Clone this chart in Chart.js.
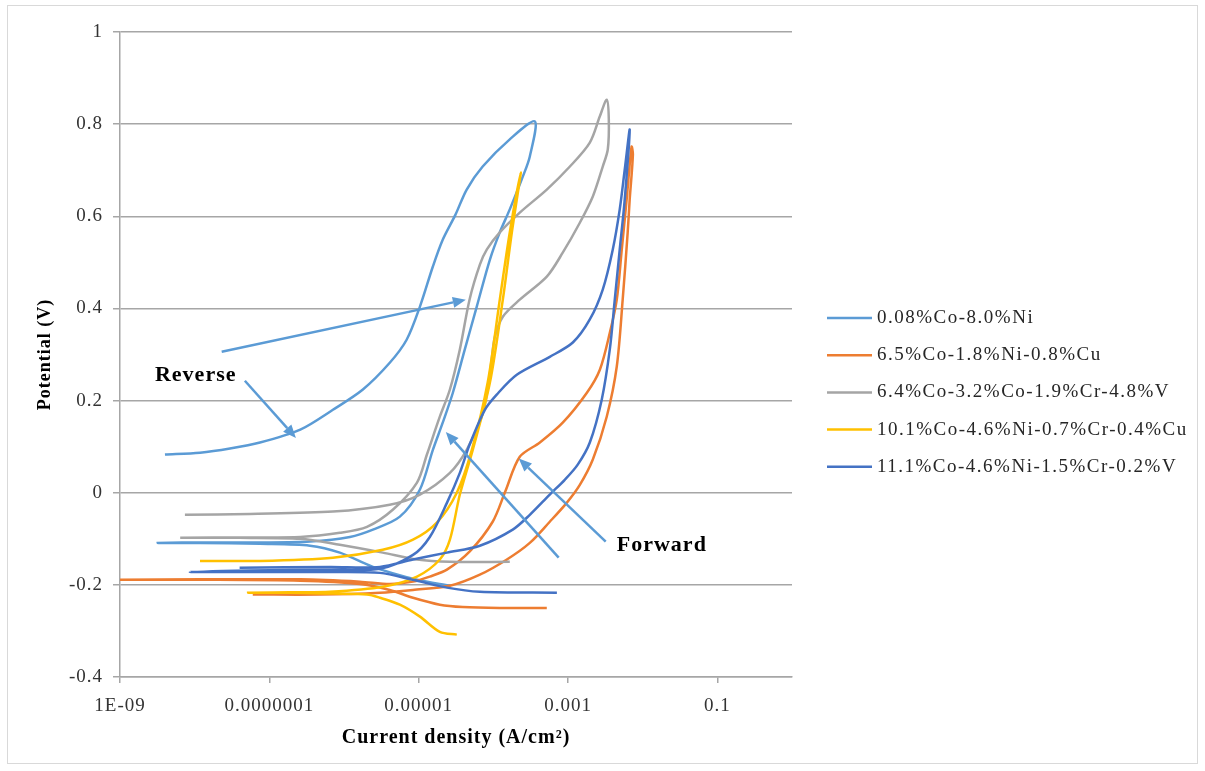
<!DOCTYPE html>
<html>
<head>
<meta charset="utf-8">
<title>Cyclic polarization curves</title>
<script src="https://cdn.jsdelivr.net/npm/chart.js@4.4.1/dist/chart.umd.min.js"></script>
<style>
  body { margin: 0; background: #fff; }
  #wrap { width: 1205px; height: 771px; }
</style>
</head>
<body>
<div id="wrap"><canvas id="chart" width="1205" height="771"></canvas></div>
<script>
const seriesLabels = [
  '0.08%Co-8.0%Ni',
  '6.5%Co-1.8%Ni-0.8%Cu',
  '6.4%Co-3.2%Co-1.9%Cr-4.8%V',
  '10.1%Co-4.6%Ni-0.7%Cr-0.4%Cu',
  '11.1%Co-4.6%Ni-1.5%Cr-0.2%V'
];
const seriesColors = ['#5B9BD5', '#ED7D31', '#A5A5A5', '#FFC000', '#4472C4'];

// each scan: cathodic tail -> Ecorr tip -> forward anodic -> vertex -> reverse
const current1 = [2.62e-5, 9.5e-6, 2.44e-6, 8.8e-7, 3.5e-7, 7.5e-8, 1.18e-8, 3.2e-9, 1.18e-8, 7.5e-8, 3.5e-7, 1.2e-6,
  2.44e-6, 5.6e-6, 1.04e-5, 1.55e-5, 2.1e-5, 2.87e-5, 4.15e-5, 6.0e-5, 9.0e-5, 1.22e-4, 1.66e-4, 2.48e-4, 3.08e-4, 3.6e-4,
  1.66e-4, 7.2e-5, 4.4e-5, 3.1e-5, 2.1e-5, 1.55e-5, 1.04e-5, 6.9e-6, 4.1e-6, 1.79e-6, 7.1e-7, 2.6e-7, 7.5e-8, 2.97e-8,
  1.18e-8, 4.0e-9];
const potential1 = [-0.202, -0.189, -0.161, -0.130, -0.115, -0.111, -0.109, -0.109, -0.108, -0.108, -0.106, -0.096,
  -0.080, -0.052, 0.007, 0.093, 0.152, 0.217, 0.311, 0.404, 0.506, 0.565, 0.615, 0.686, 0.730, 0.806,
  0.767, 0.708, 0.658, 0.603, 0.549, 0.491, 0.404, 0.332, 0.282, 0.224, 0.180, 0.137, 0.109, 0.096,
  0.087, 0.083];

const current2 = [5.2e-4, 1.22e-4, 3.9e-5, 1.92e-5, 8.4e-6, 4.1e-6, 1.63e-6, 2.6e-7, 1.18e-8, 7.3e-10, 1.18e-8, 2.6e-7,
  1.63e-6, 4.1e-6, 8.4e-6, 1.41e-5, 2.39e-5, 4.8e-5, 9.8e-5, 1.44e-4, 2.26e-4, 4.2e-4, 8.5e-4, 1.79e-3, 2.67e-3,
  3.63e-3, 4.5e-3, 5.25e-3, 6.1e-3, 7.1e-3,
  7.4e-3, 6.7e-3, 6.3e-3, 5.4e-3, 4.5e-3, 3.3e-3, 2.15e-3, 1.44e-3, 9.6e-4, 5.7e-4, 3.08e-4, 1.52e-4, 6.6e-5, 2.62e-5,
  8.4e-6, 3.03e-6, 4.75e-7, 6.0e-8];
const potential2 = [-0.250, -0.250, -0.248, -0.243, -0.228, -0.211, -0.198, -0.191, -0.189, -0.189, -0.188, -0.188,
  -0.193, -0.198, -0.193, -0.182, -0.167, -0.128, -0.063, 0.002, 0.078, 0.109, 0.152, 0.217, 0.267,
  0.347, 0.419, 0.528, 0.636, 0.751,
  0.734, 0.636, 0.565, 0.419, 0.274, 0.165, 0.072, 0.017, -0.022, -0.063, -0.109, -0.145, -0.178, -0.202,
  -0.211, -0.217, -0.221, -0.221];

const current3 = [1.66e-4, 2.62e-5, 9.5e-6, 3.3e-6, 8.8e-7, 2.6e-7, 4.0e-8, 6.4e-9, 4.0e-8, 2.6e-7, 8.8e-7, 2.03e-6,
  4.5e-6, 9.5e-6, 1.29e-5, 1.92e-5, 2.62e-5, 3.56e-5, 4.8e-5, 6.6e-5, 8.2e-5, 1.22e-4, 2.26e-4, 5.2e-4, 1.06e-3,
  1.96e-3, 2.67e-3, 3.3e-3,
  3.52e-3, 3.41e-3, 2.92e-3, 2.15e-3, 1.44e-3, 8.5e-4, 5.2e-4, 2.26e-4, 1.34e-4, 1.05e-4, 9.5e-5, 8.4e-5, 7.0e-5,
  4.4e-5, 2.62e-5, 1.04e-5, 4.1e-6, 7.1e-7, 5.5e-8, 7.4e-9];
const potential3 = [-0.150, -0.150, -0.145, -0.130, -0.113, -0.100, -0.098, -0.098, -0.097, -0.096, -0.087, -0.074,
  -0.037, 0.022, 0.083, 0.165, 0.224, 0.311, 0.419, 0.495, 0.528, 0.565, 0.608, 0.658, 0.708,
  0.760, 0.817, 0.853,
  0.810, 0.745, 0.708, 0.643, 0.586, 0.521, 0.469, 0.419, 0.382, 0.339, 0.289, 0.224, 0.165,
  0.093, 0.043, -0.004, -0.026, -0.041, -0.046, -0.048];

const current4 = [3.24e-5, 1.92e-5, 1.04e-5, 5.6e-6, 3.03e-6, 2.03e-6, 7.1e-7, 1.89e-7, 5.2e-8, 1.89e-7, 6.5e-7, 3.3e-6,
  9.5e-6, 1.92e-5, 2.62e-5, 3.56e-5, 5.3e-5, 9.0e-5, 1.34e-4, 1.77e-4, 2.33e-4,
  1.66e-4, 1.22e-4, 8.4e-5, 5.15e-5, 3.24e-5, 1.75e-5, 8.4e-6, 3.3e-6, 7.1e-7, 7.5e-8, 1.18e-8];
const potential4 = [-0.308, -0.302, -0.269, -0.243, -0.228, -0.221, -0.219, -0.217, -0.217, -0.216, -0.215, -0.204,
  -0.182, -0.145, -0.102, -0.004, 0.093, 0.239, 0.419, 0.565, 0.695,
  0.565, 0.419, 0.239, 0.093, 0.000, -0.065, -0.102, -0.124, -0.141, -0.148, -0.148];

const current5 = [7.1e-4, 6.6e-5, 2.39e-5, 8.4e-6, 3.03e-6, 6.5e-7, 5.5e-8, 8.6e-9, 5.5e-8, 6.5e-7, 3.03e-6, 8.4e-6,
  1.41e-5, 2.39e-5, 3.56e-5, 4.8e-5, 7.7e-5, 1.11e-4, 2.06e-4, 5.7e-4, 1.16e-3, 1.96e-3, 2.92e-3, 3.98e-3, 4.93e-3,
  5.75e-3, 6.7e-3,
  5.75e-3, 4.93e-3, 4.23e-3, 3.63e-3, 2.83e-3, 1.96e-3, 1.35e-3, 9.05e-4, 5.7e-4, 3.08e-4, 1.82e-4, 6.6e-5, 2.39e-5,
  8.4e-6, 3.03e-6, 6.5e-7, 4.0e-8];
const potential5 = [-0.217, -0.215, -0.206, -0.189, -0.174, -0.172, -0.172, -0.172, -0.169, -0.167, -0.165, -0.135,
  -0.096, -0.022, 0.043, 0.104, 0.180, 0.213, 0.256, 0.295, 0.326, 0.376, 0.441, 0.528, 0.615,
  0.701, 0.788,
  0.636, 0.528, 0.419, 0.311, 0.202, 0.109, 0.061, 0.028, -0.004, -0.048, -0.080, -0.115, -0.130,
  -0.145, -0.161, -0.161, -0.163];

const currents = [current1, current2, current3, current4, current5];
const potentials = [potential1, potential2, potential3, potential4, potential5];

const xTickValues = [1e-9, 1e-7, 1e-5, 1e-3, 1e-1];
const xTickLabels = ['1E-09', '0.0000001', '0.00001', '0.001', '0.1'];
const yTickValues = [-0.4, -0.2, 0, 0.2, 0.4, 0.6, 0.8, 1];
const yTickLabels = ['-0.4', '-0.2', '0', '0.2', '0.4', '0.6', '0.8', '1'];

// scan-direction arrows [fromCurrent, fromPotential, toCurrent, toPotential]
const arrows = [
  [2.3e-8, 0.306, 4.28e-5, 0.419],
  [4.7e-8, 0.243, 2.27e-7, 0.119],
  [7.5e-4, -0.141, 2.31e-5, 0.132],
  [3.2e-3, -0.106, 2.19e-4, 0.074]
];
const notes = [
  ['Reverse', 2.94e-9, 0.254],
  ['Forward', 4.5e-3, -0.115]
];

const serif = "'Liberation Serif', 'Times New Roman', serif";
const gridGray = '#A6A6A6';

const datasets = seriesLabels.map((label, i) => ({
  label: label,
  data: currents[i].map((c, j) => ({ x: c, y: potentials[i][j] })),
  showLine: true,
  borderColor: seriesColors[i],
  backgroundColor: seriesColors[i],
  borderWidth: 2.5,
  pointRadius: 0,
  tension: 0.3,
  fill: false,
  order: seriesLabels.length - i
}));

const framePlugin = {
  id: 'frame',
  beforeDraw(chart) {
    const ctx = chart.ctx;
    ctx.save();
    ctx.fillStyle = '#fff';
    ctx.fillRect(0, 0, chart.width, chart.height);
    ctx.strokeStyle = '#D9D9D9';
    ctx.lineWidth = 1;
    ctx.strokeRect(7.5, 5.5, 1190, 758);
    ctx.restore();
    // axis text is drawn slightly spaced out
    ctx.letterSpacing = '1px';
  }
};

const notesPlugin = {
  id: 'notes',
  afterDatasetsDraw(chart) {
    const ctx = chart.ctx;
    const xs = chart.scales.x, ys = chart.scales.y;
    ctx.save();
    ctx.strokeStyle = '#5B9BD5';
    ctx.fillStyle = '#5B9BD5';
    ctx.lineWidth = 2.5;
    arrows.forEach(a => {
      const x0 = xs.getPixelForValue(a[0]), y0 = ys.getPixelForValue(a[1]);
      const x1 = xs.getPixelForValue(a[2]), y1 = ys.getPixelForValue(a[3]);
      const ang = Math.atan2(y1 - y0, x1 - x0);
      const len = 13, half = 5.5;
      const bx = x1 - len * Math.cos(ang), by = y1 - len * Math.sin(ang);
      ctx.beginPath();
      ctx.moveTo(x0, y0);
      ctx.lineTo(bx, by);
      ctx.stroke();
      ctx.beginPath();
      ctx.moveTo(x1, y1);
      ctx.lineTo(bx + half * Math.sin(ang), by - half * Math.cos(ang));
      ctx.lineTo(bx - half * Math.sin(ang), by + half * Math.cos(ang));
      ctx.closePath();
      ctx.fill();
    });
    ctx.fillStyle = '#000';
    ctx.font = 'bold 22px ' + serif;
    ctx.letterSpacing = '1px';
    ctx.textBaseline = 'middle';
    ctx.textAlign = 'left';
    notes.forEach(n => {
      ctx.fillText(n[0], xs.getPixelForValue(n[1]), ys.getPixelForValue(n[2]));
    });
    ctx.restore();
  }
};

// legend to the right of the plot
const sideLegend = {
  id: 'sideLegend',
  afterDraw(chart) {
    const ctx = chart.ctx;
    const left = chart.chartArea.right + 35;
    const top = 318, step = 37.2;
    ctx.save();
    ctx.font = '19px ' + serif;
    ctx.letterSpacing = '1.5px';
    ctx.textBaseline = 'middle';
    ctx.fillStyle = '#262626';
    chart.data.datasets.forEach((ds, i) => {
      const y = top + i * step;
      ctx.strokeStyle = ds.borderColor;
      ctx.lineWidth = 2.5;
      ctx.beginPath();
      ctx.moveTo(left, y);
      ctx.lineTo(left + 45, y);
      ctx.stroke();
      ctx.fillText(ds.label, left + 50, y);
    });
    ctx.restore();
  }
};

new Chart(document.getElementById('chart'), {
  type: 'scatter',
  data: { datasets: datasets },
  options: {
    responsive: false,
    animation: false,
    devicePixelRatio: 1,
    layout: { padding: { left: 10, right: 413, top: 32, bottom: 10 } },
    plugins: {
      legend: { display: false },
      tooltip: { enabled: false }
    },
    scales: {
      x: {
        type: 'logarithmic',
        min: 1e-9,
        max: 1,
        afterBuildTicks: s => { s.ticks = xTickValues.map(v => ({ value: v })); },
        afterFit: s => { s.height = 84; },
        ticks: {
          autoSkip: false,
          maxRotation: 0,
          padding: 12,
          color: '#333',
          font: { family: serif, size: 19 },
          callback: (v, i) => xTickLabels[i]
        },
        grid: { drawOnChartArea: false, color: gridGray, lineWidth: 1.5, tickLength: 6 },
        border: { color: gridGray, width: 1.5 },
        title: {
          display: true,
          text: 'Current density (A/cm²)',
          color: '#000',
          font: { family: serif, size: 20, weight: 'bold' },
          padding: { bottom: 11 }
        }
      },
      y: {
        min: -0.4,
        max: 1,
        afterBuildTicks: s => { s.ticks = yTickValues.map(v => ({ value: v })); },
        afterFit: s => { s.width = 110; },
        ticks: {
          padding: 10,
          color: '#333',
          font: { family: serif, size: 19 },
          callback: (v, i) => yTickLabels[i]
        },
        grid: { color: gridGray, lineWidth: 1.5, tickLength: 7 },
        border: { color: gridGray, width: 1.5 },
        title: {
          display: true,
          text: 'Potential (V)',
          color: '#000',
          font: { family: serif, size: 18, weight: 'bold' },
          padding: { top: 25 }
        }
      }
    }
  },
  plugins: [framePlugin, notesPlugin, sideLegend]
});
</script>
</body>
</html>
